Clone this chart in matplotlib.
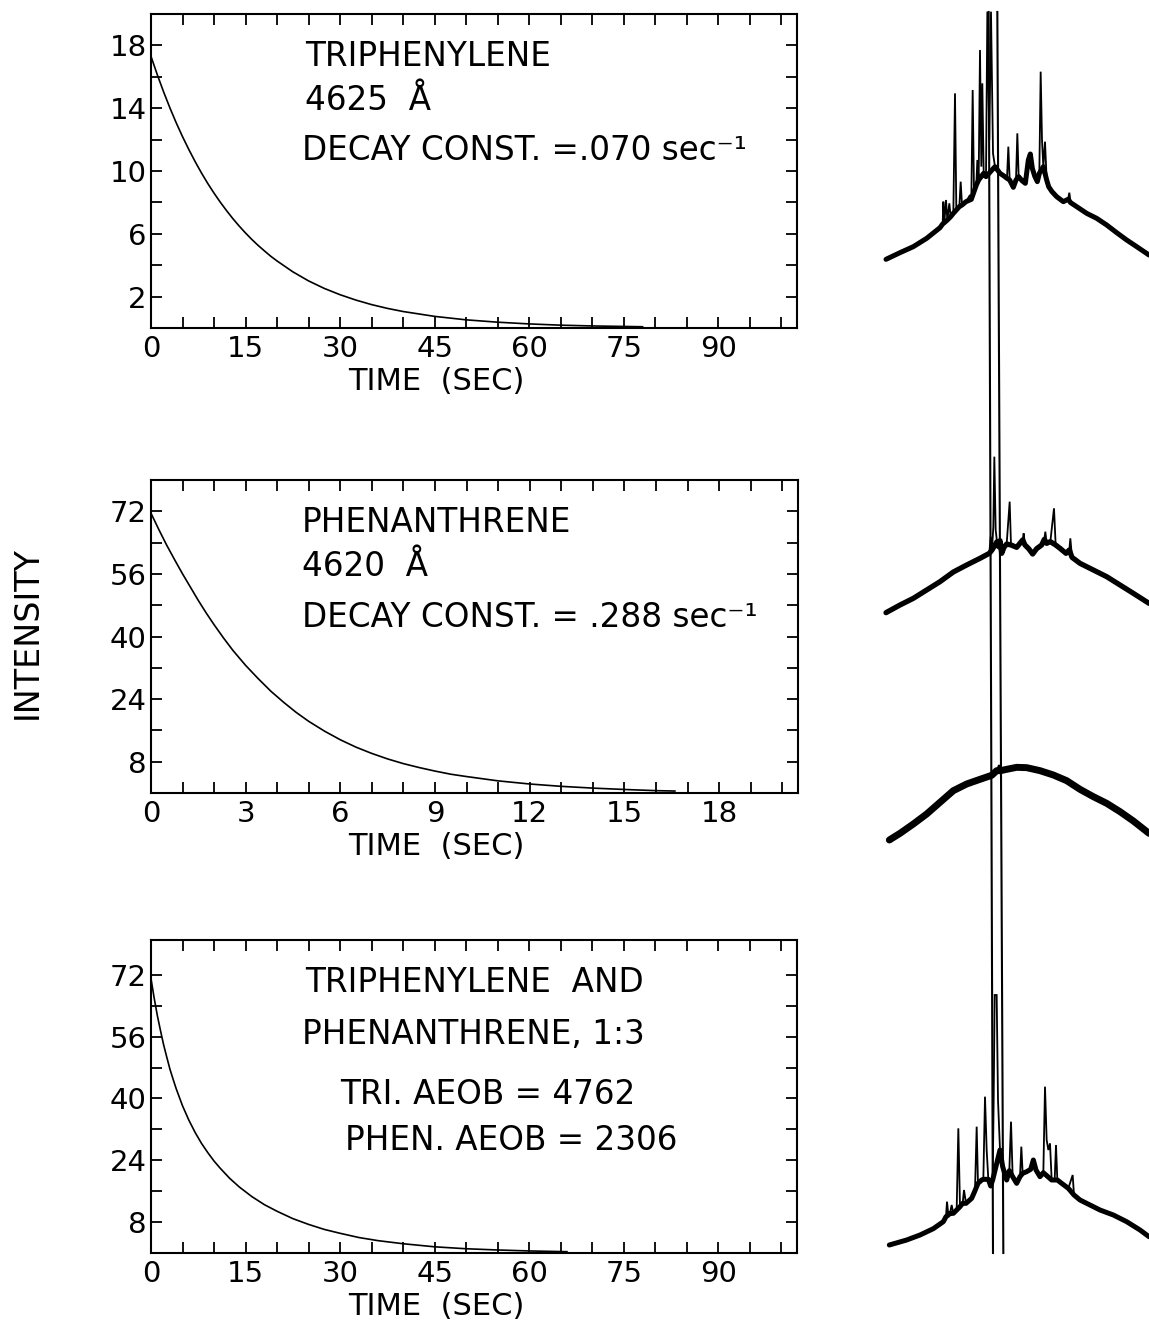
import matplotlib
matplotlib.use("Agg")
import matplotlib.pyplot as plt
import numpy as np

plt.rcParams['font.family'] = ['DejaVu Sans']

W, H = 1149, 1327

# ---------------- decay curves ----------------
p1_t = [0, 1, 2, 3, 4, 5, 6, 7, 8, 9, 10, 11, 12, 13, 14, 15, 16, 17, 18, 19,
        20, 22.5, 25, 27.5, 30, 32.5, 35, 37.5, 40, 45, 50, 55, 60, 65, 70, 78]
p1_I = [17.3, 16.13, 15.04, 14.02, 13.07, 12.19, 11.37, 10.6, 9.88, 9.21, 8.59,
        8.01, 7.47, 6.96, 6.49, 6.05, 5.64, 5.26, 4.91, 4.57, 4.27, 3.58, 3.0,
        2.52, 2.12, 1.78, 1.49, 1.25, 1.05, 0.74, 0.52, 0.37, 0.26, 0.18, 0.13,
        0.08]

p2_t = [0, 0.25, 0.5, 0.75, 1, 1.25, 1.5, 1.75, 2, 2.3, 2.6, 3, 3.4, 3.8, 4.2,
        4.6, 5, 5.5, 6, 6.5, 7, 7.5, 8, 8.5, 9, 9.5, 10, 11, 12, 13, 14, 15, 16,
        16.6]
p2_I = [71.5, 67.3, 63.3, 59.6, 56.0, 52.6, 49.2, 46.0, 43.0, 39.6, 36.4, 32.6,
        29.2, 26.0, 23.2, 20.6, 18.3, 15.8, 13.6, 11.7, 10.1, 8.7, 7.5, 6.5, 5.6,
        4.8, 4.2, 3.1, 2.3, 1.7, 1.25, 0.9, 0.6, 0.5]

p3_t = [0, 0.5, 1, 1.5, 2, 2.5, 3, 3.5, 4, 5, 6, 7, 8, 9, 10, 11, 12.5, 14, 16,
        18, 20, 22.5, 25, 27.5, 30, 33, 36, 40, 45, 50, 55, 60, 66]
p3_I = [71, 66.0, 61.5, 57.6, 53.9, 50.7, 47.6, 45.0, 42.5, 38.1, 34.4, 31.2,
        28.4, 26.0, 23.8, 21.9, 19.3, 17.1, 14.6, 12.5, 10.8, 8.9, 7.4, 6.1,
        5.1, 4.0, 3.2, 2.4, 1.6, 1.1, 0.78, 0.53, 0.34]

# tick labels
x_ticks_long = list(range(0, 101, 5))
x_labels_long = ['0', '15', '30', '45', '60', '75', '90']
x_ticks_short = list(range(0, 21, 1))
x_labels_short = ['0', '3', '6', '9', '12', '15', '18']
y_ticks_p1 = list(range(2, 20, 2))
y_labels_p1 = ['2', '6', '10', '14', '18']
y_ticks_p23 = list(range(8, 80, 8))
y_labels_p23 = ['8', '24', '40', '56', '72']

# ---------------- spectral traces ----------------
# trace A (top): channel, deflection (down-positive), spike tip flag
A_x = [78, 120, 160, 200, 240, 248, 250, 253, 258, 262, 268, 272, 280, 285, 289,
       298, 302, 306, 318, 330, 334, 338, 342, 349, 352, 356, 360, 364, 367, 371,
       378, 382, 388, 393, 399, 405, 420, 432, 441, 445, 449, 460, 468, 472, 476,
       486, 496, 505, 511, 517, 524, 532, 538, 542, 546, 550, 555, 560, 566, 576,
       590, 610, 624, 628, 632, 650, 680, 710, 740, 770, 800, 830, 867]
A_y = [778, 758, 740, 715, 683, 672, 605, 668, 600, 660, 610, 650, 640, 280, 630,
       620, 545, 615, 605, 585, 598, 270, 575, 555, 480, 540, 150, 500, 250, 520,
       530, 35, 420, 35, 460, 500, 520, 528, 535, 440, 540, 562, 540, 400, 530,
       542, 550, 480, 462, 505, 528, 545, 520, 215, 420, 500, 425, 540, 560, 575,
       590, 605, 598, 578, 608, 620, 640, 655, 675, 698, 720, 740, 765]
A_tip = [0, 0, 0, 0, 0, 0, 1, 0, 1, 0, 1, 0, 0, 1, 0,
         0, 1, 0, 0, 1, 0, 1, 0, 0, 1, 0, 1, 1, 1, 0,
         0, 1, 1, 1, 1, 0, 0, 0, 0, 1, 0, 0, 0, 1, 0,
         0, 0, 0, 0, 0, 0, 0, 0, 1, 1, 0, 1, 0, 0, 0,
         0, 0, 0, 1, 0, 0, 0, 0, 0, 0, 0, 0, 0]

B_x = [78, 120, 160, 200, 240, 280, 320, 360, 388, 392, 396, 400, 403, 407, 411,
       416, 420, 425, 432, 440, 449, 453, 470, 488, 491, 495, 506, 518, 530, 545,
       553, 556, 560, 571, 582, 587, 600, 618, 628, 631, 636, 660, 700, 740, 780,
       820, 867]
B_y = [488, 465, 445, 420, 395, 366, 345, 325, 310, 260, 300, 230, 20, 240, 275,
       290, 272, 310, 292, 282, 155, 285, 292, 270, 250, 285, 296, 312, 296, 285,
       268, 245, 280, 275, 175, 285, 295, 310, 300, 265, 322, 340, 360, 380, 405,
       430, 460]
B_tip = [0, 0, 0, 0, 0, 0, 0, 0, 0, 1, 0, 1, 1, 1, 0,
         0, 0, 0, 0, 0, 1, 0, 0, 0, 1, 0, 0, 0, 0, 0,
         0, 1, 0, 0, 1, 0, 0, 0, 0, 1, 0, 0, 0, 0, 0,
         0, 0]

C_x = [88, 120, 160, 200, 240, 280, 320, 360, 395, 410, 417, 422, 440, 470, 500,
       540, 580, 620, 660, 700, 740, 780, 820, 867]
C_y = [1170, 1150, 1122, 1092, 1057, 1022, 1002, 988, 976, 962, 945, 962, 958,
       952, 953, 962, 975, 992, 1018, 1040, 1060, 1085, 1113, 1150]
C_tip = [0, 0, 0, 0, 0, 0, 0, 0, 0, 0, 1, 0, 0, 0, 0,
         0, 0, 0, 0, 0, 0, 0, 0, 0]

D_x = [88, 140, 180, 220, 250, 258, 261, 265, 270, 275, 280, 290, 295, 300, 308,
       312, 318, 335, 345, 350, 354, 365, 370, 375, 380, 385, 392, 398, 401, 404,
       410, 414, 420, 428, 440, 448, 453, 458, 470, 480, 484, 488, 500, 512, 520,
       528, 540, 550, 555, 560, 565, 570, 575, 584, 588, 592, 605, 625, 638, 642,
       660, 680, 720, 760, 800, 840, 867]
D_y = [885, 870, 855, 836, 815, 800, 755, 795, 790, 765, 790, 780, 535, 770, 760,
       720, 760, 745, 722, 530, 700, 690, 688, 440, 600, 688, 708, 690, 450, 135,
       135, 450, 600, 650, 690, 662, 515, 680, 700, 680, 590, 670, 665, 658, 630,
       660, 680, 668, 410, 570, 600, 580, 690, 690, 585, 690, 700, 715, 675, 735,
       750, 760, 780, 795, 815, 840, 860]
D_tip = [0, 0, 0, 0, 0, 0, 1, 0, 0, 1, 0, 0, 1, 0, 0,
         1, 0, 0, 0, 1, 0, 0, 0, 1, 1, 0, 0, 0, 1, 1,
         1, 1, 0, 0, 0, 0, 1, 0, 0, 0, 1, 0, 0, 0, 0,
         0, 0, 0, 1, 1, 1, 1, 0, 0, 1, 0, 0, 0, 1, 0,
         0, 0, 0, 0, 0, 0, 0]

# two long vertical pen lines (channel at top/bottom, height)
L1_x = [386, 399]
R1_x = [412, 430]
vline_y = [1315, 74]

# trace offsets (height of each trace's zero deflection)
offsets = {'A': 1327, 'B': 877, 'C': 877, 'D': 377}

# ---------------- figure ----------------
fig = plt.figure(figsize=(W / 100, H / 100), dpi=100)


def rect(x0, y0, x1, y1):
    return [x0 / W, 1 - y1 / H, (x1 - x0) / W, (y1 - y0) / H]


def fxy(x, y):
    return x / W, 1 - y / H


FS_TICK = 21
FS_LAB = 22
FS_ANN = 23.5


def style(ax, xmax, xt, xl_vals, yt, yl_vals, ymax):
    ax.set_xlim(0, xmax)
    ax.set_ylim(0, ymax)
    ax.set_xticks(xt)
    ax.set_xticklabels([str(v) if str(v) in xl_vals else '' for v in xt])
    ax.set_yticks(yt)
    ax.set_yticklabels([str(v) if str(v) in yl_vals else '' for v in yt])
    ax.tick_params(direction='in', length=8, width=1.3, top=True, right=True,
                   labelsize=FS_TICK, pad=3)
    ax.tick_params(axis='x', pad=5)
    for s in ax.spines.values():
        s.set_linewidth(1.5)
    ax.set_xlabel('TIME  (SEC)', fontsize=FS_LAB)
    ax.xaxis.set_label_coords(0.441, -0.125)


ax1 = fig.add_axes(rect(151, 14, 797, 328))
ax1.plot(p1_t, p1_I, color='black', lw=1.2)
style(ax1, 102.5, x_ticks_long, x_labels_long, y_ticks_p1, y_labels_p1, 20)

ax2 = fig.add_axes(rect(151, 480, 798, 793))
ax2.plot(p2_t, p2_I, color='black', lw=1.2)
style(ax2, 20.5, x_ticks_short, x_labels_short, y_ticks_p23, y_labels_p23, 80)

ax3 = fig.add_axes(rect(151, 940, 797, 1253))
ax3.plot(p3_t, p3_I, color='black', lw=1.2)
style(ax3, 102.5, x_ticks_long, x_labels_long, y_ticks_p23, y_labels_p23, 81)

fig.text(*fxy(27, 633), 'INTENSITY', rotation=90, fontsize=24,
         ha='center', va='center')

ann = [
    (305, 57, 'TRIPHENYLENE'),
    (305, 100, '4625  Å'),
    (302, 150, 'DECAY CONST. =.070 sec⁻¹'),
    (302, 522, 'PHENANTHRENE'),
    (302, 567, '4620  Å'),
    (302, 617, 'DECAY CONST. = .288 sec⁻¹'),
    (305, 983, 'TRIPHENYLENE  AND'),
    (302, 1035, 'PHENANTHRENE, 1:3'),
    (340, 1095, 'TRI. AEOB = 4762'),
    (345, 1140, 'PHEN. AEOB = 2306'),
]
for x, y, s in ann:
    fig.text(*fxy(x, y), s, fontsize=FS_ANN, ha='left', va='center')

# right-hand spectra
axr = fig.add_axes([860 / W, 0, 289 / W, 1])
axr.set_xlim(0, 289)
axr.set_ylim(0, H)
axr.axis('off')

traces = [('A', A_x, A_y, A_tip, 3.6), ('B', B_x, B_y, B_tip, 3.8),
          ('C', C_x, C_y, C_tip, 5.0), ('D', D_x, D_y, D_tip, 3.6)]
for name, xs, ys, tips, lw in traces:
    X = np.array(xs) / 3.0
    Y = offsets[name] - np.array(ys) / 3.0
    tip = np.array(tips, dtype=bool)
    axr.plot(X, Y, color='black', lw=1.3, solid_joinstyle='miter')
    axr.plot(X[~tip], Y[~tip], color='black', lw=lw, solid_capstyle='round')

axr.plot(np.array(L1_x) / 3.0, vline_y, color='black', lw=1.5)
axr.plot(np.array(R1_x) / 3.0, vline_y, color='black', lw=1.5)

fig.savefig('out.png', dpi=100)
